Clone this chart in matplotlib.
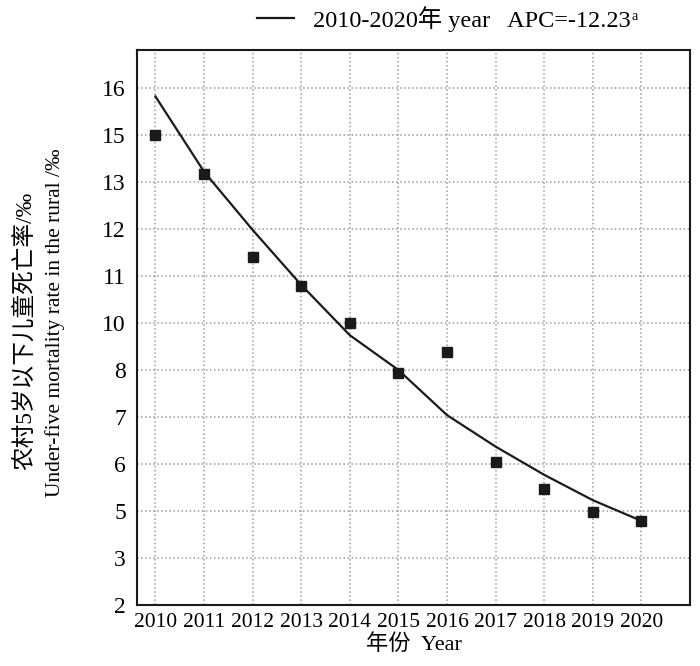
import matplotlib
matplotlib.use('Agg')
import matplotlib.pyplot as plt
import numpy as np

years = np.arange(2010, 2021)
observed = [15.0, 13.36, 11.4, 10.79, 9.98, 7.94, 8.76, 6.05, 5.46, 4.94, 4.58]
# fitted joinpoint curve, APC = -12.23
fitted = [15.82, 13.44, 11.98, 10.81, 9.48, 8.0, 7.04, 6.37, 5.77, 5.23, 4.58]

# the original axis puts these labels at equal spacing
ytick_vals = [2, 3, 5, 6, 7, 8, 10, 11, 12, 13, 15, 16]
legend_label = '2010-2020年 year   APC=-12.23'
legend_sup = 'a'
xlabel = '年份  Year'
ylabel_cn = '农村5岁以下儿童死亡率/‰'
ylabel_en = 'Under-five mortality rate in the rural /‰'

plt.rcParams['font.family'] = ['Liberation Serif', 'Noto Sans CJK SC']

# piecewise linear scale so the uneven labels sit evenly
map_vals = np.array([1] + ytick_vals + [17], dtype=float)
map_idx = np.arange(-1, len(ytick_vals) + 1, dtype=float)


def forward(v):
    return np.interp(v, map_vals, map_idx)


def inverse(i):
    return np.interp(i, map_idx, map_vals)


fig = plt.figure(figsize=(7, 6.66), dpi=100)
ax = fig.add_axes([0.1957, 0.0916, 0.79, 0.8334])
ax.set_yscale('function', functions=(forward, inverse))

line, = ax.plot(years, fitted, color='#1a1a1a', lw=1.6, label=legend_label)
ax.plot(years, observed, 's', color='#1a1a1a', ms=7.5, ls='none')

ax.set_xlim(2009.62, 2021.0)
ax.set_ylim(2, 16.81)
ax.set_xticks(years)
ax.set_yticks(ytick_vals)
ax.set_yticklabels([str(v) for v in ytick_vals])
ax.tick_params(length=0)
ax.tick_params(axis='y', labelsize=17, pad=8)
ax.tick_params(axis='x', labelsize=15.5, pad=6)
ax.grid(True, color='#9a9a9a', ls=':', lw=1.1)
for s in ax.spines.values():
    s.set_linewidth(1.5)
    s.set_color('#1a1a1a')

ax.set_xlabel(xlabel, fontsize=16, labelpad=1)
fig.text(25 / 700, 0.503, ylabel_cn, fontsize=17, rotation=90,
         ha='center', va='center')
fig.text(55 / 700, 0.516, ylabel_en, fontsize=15.5, rotation=90,
         ha='center', va='center')

leg = ax.legend(handles=[line], loc='center', bbox_to_anchor=(0.555, 1.056),
                frameon=False, fontsize=17.5, handlelength=1.5, handletextpad=0.8)

# superscript "a" right after the legend text
fig.canvas.draw()
bb = leg.get_texts()[0].get_window_extent()
fx, fy = fig.transFigure.inverted().transform((bb.x1 + 1, bb.y1 - 4))
fig.text(fx, fy, legend_sup, fontsize=10, ha='left', va='top')

fig.savefig('out.png', dpi=100)
